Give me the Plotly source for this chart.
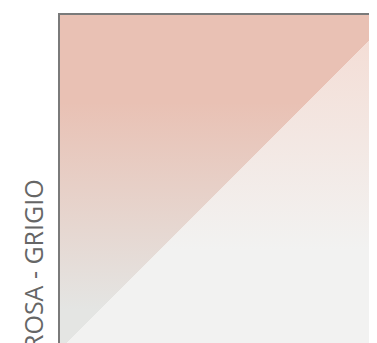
import plotly.graph_objects as go

# Triangle vertices (data units)
upper_x = [0, 0, 1, 0]
upper_y = [0, 1, 1, 0]
lower_x = [0, 1, 1, 0]
lower_y = [0, 0, 1, 0]

# Gradient colours (bottom -> top)
upper_colors = ["#E4E5E3", "#E9C1B4"]
lower_colors = ["#F2F2F1", "#F4DDD5"]
axis_title = "ROSA - GRIGIO"

fig = go.Figure()
fig.add_trace(go.Scatter(
    x=upper_x, y=upper_y, mode="lines", line=dict(width=0),
    fill="toself",
    fillgradient=dict(type="vertical", start=0.12, stop=0.74,
                      colorscale=[[0, upper_colors[0]], [1, upper_colors[1]]]),
    hoverinfo="skip", showlegend=False))
fig.add_trace(go.Scatter(
    x=lower_x, y=lower_y, mode="lines", line=dict(width=0),
    fill="toself",
    fillgradient=dict(type="vertical", start=0.30, stop=0.95,
                      colorscale=[[0, lower_colors[0]], [1, lower_colors[1]]]),
    hoverinfo="skip", showlegend=False))

fig.update_layout(
    width=369, height=335,
    margin=dict(l=52, r=0, t=7, b=0, pad=0),
    paper_bgcolor="white", plot_bgcolor="white",
    xaxis=dict(range=[0, 317 / 335], side="top", showline=True, linecolor="#7a7a7a",
               linewidth=2, showgrid=False, zeroline=False, showticklabels=False,
               ticks="", fixedrange=True),
    yaxis=dict(range=[1 - 328 / 335, 1], showline=True, linecolor="#7a7a7a",
               linewidth=2, showgrid=False, zeroline=False, showticklabels=False,
               ticks="", fixedrange=True),
    annotations=[dict(text=axis_title, textangle=-90, xref="paper", yref="paper",
                      x=-27 / 317, y=(343 - 265) / 328, xanchor="center", yanchor="middle",
                      showarrow=False, font=dict(family="Open Sans", size=25, color="#666666"))],
)

fig.write_html("out.html", config={"displayModeBar": False})
